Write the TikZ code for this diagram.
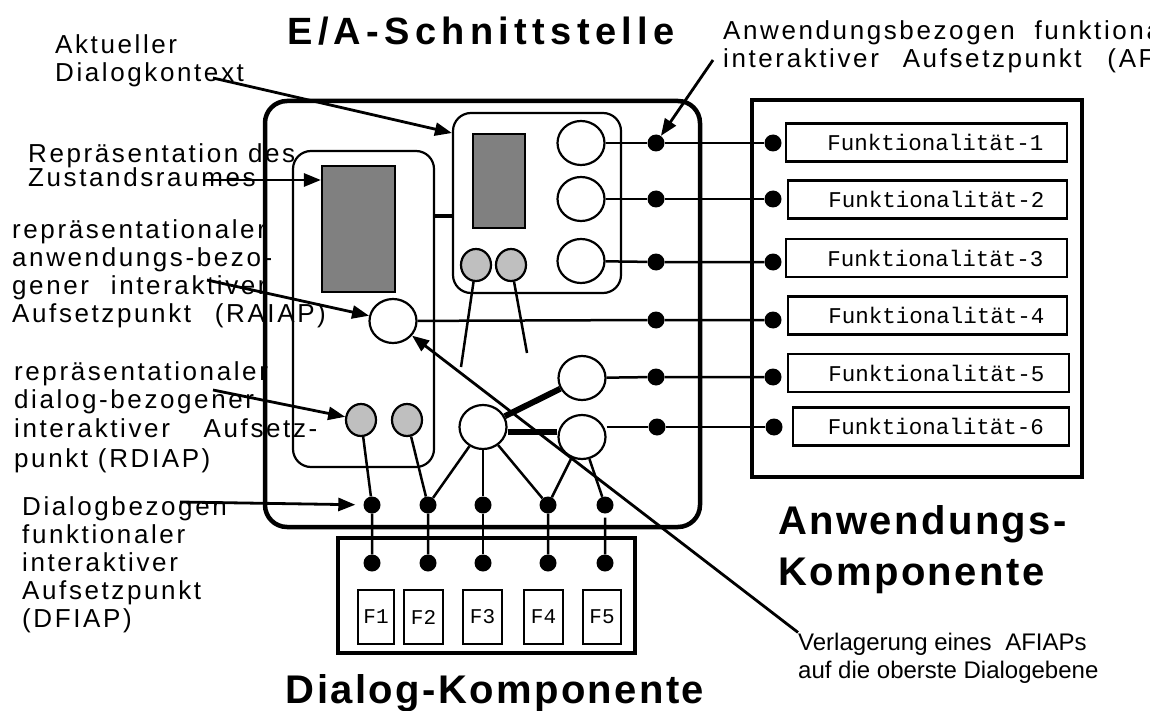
\documentclass[tikz,border=0pt]{standalone}
\usepackage{fontspec}
\setmainfont{Liberation Sans}
\setmonofont{Liberation Mono}
\newfontfamily\spaced[LetterSpace=10]{Liberation Sans}
\newfontfamily\titelfont[LetterSpace=14]{Liberation Sans}
\newfontfamily\kompfont[LetterSpace=6]{Liberation Sans}
\usetikzlibrary{shapes}
\usetikzlibrary{positioning}
\usetikzlibrary{arrows.meta}
\tikzset{
    schale/.style = {rectangle, rounded corners=22pt, line width=4.5pt, draw=black, inner sep=0pt},
    fach/.style = {rectangle, rounded corners=18pt, line width=2.2pt, draw=black, inner sep=0pt},
    zustand/.style = {rectangle, line width=2.2pt, draw=black, fill=gray, inner sep=0pt},
    rahmen/.style = {rectangle, line width=4.5pt, draw=black, inner sep=0pt},
    kreis/.style = {ellipse, line width=2.2pt, draw=black, fill=white, inner sep=0pt, minimum width=47pt, minimum height=44pt},
    grau/.style = {ellipse, line width=2.2pt, draw=black, fill=gray!50, inner sep=0pt, minimum width=30pt, minimum height=32pt},
    punkt/.style = {circle, fill=black, inner sep=0pt, minimum size=17pt},
    funk/.style = {rectangle, line width=2.5pt, draw=black, inner sep=0pt, minimum height=38pt, font=\ttfamily\fontsize{22.5}{24}\selectfont},
    taste/.style = {rectangle, line width=2.2pt, draw=black, inner sep=0pt, minimum height=54pt, font=\ttfamily\fontsize{21}{23}\selectfont},
    lab/.style = {align=left, inner sep=0pt, font=\spaced\fontsize{26}{28}\selectfont},
    klein/.style = {align=left, inner sep=0pt, font=\fontsize{24}{28}\selectfont},
    titel/.style = {inner sep=0pt, font=\titelfont\bfseries\fontsize{38}{50}\selectfont},
    komp/.style = {inner sep=0pt, font=\kompfont\bfseries\fontsize{40}{50}\selectfont},
    verb/.style = {line width=2.5pt},
    dick/.style = {line width=6pt}, % starke Kopplung
    balken/.style = {line width=4pt},
    pfeil/.style = {line width=2.8pt, -{Triangle[length=17pt,width=13pt]}}
}
\begin{document}
\begin{tikzpicture}[x=1pt,y=-1pt]
\useasboundingbox (0,0) rectangle (1150,711);
%
% E/A-Schnittstelle
\node[schale, minimum width=435pt, minimum height=426pt] at (482.5,314) (ea) {};
\node[fach, minimum width=141pt, minimum height=316pt] at (363.5,309) (zb) {};
\node[fach, minimum width=168pt, minimum height=180pt] at (537,203) (dk) {};
\node[zustand, minimum width=73pt, minimum height=126pt] at (358.5,229) (zr) {};
\node[zustand, minimum width=52pt, minimum height=94pt] at (499,181) (dz) {};
\draw[balken] (zb.east |- 0,216) -- (dk.west |- 0,216);
%
\node[kreis] at (581,143) (k1) {};
\node[kreis] at (581,199) (k2) {};
\node[kreis] at (581,261) (k3) {};
\node[grau] at (476,265) (g1) {};
\node[grau] at (511,265) (g2) {};
\node[kreis] at (393,321) (ra) {};
\node[kreis] at (582,378) (ka) {};
\node[kreis] at (582,437) (kb) {};
\node[kreis] at (483,427) (hub) {};
\node[grau] at (361,420) (rd1) {};
\node[grau] at (407,420) (rd2) {};
\coordinate (g1e) at (461,367);
\coordinate (g2e) at (527,353);
%
% Anwendungs-Komponente
\node[rahmen, minimum width=330pt, minimum height=377pt] at (917,288.5) (ak) {};
\node[funk, minimum width=281pt] at (926.5,142.5) (fu1) {\hspace*{18pt}Funktionalität-1};
\node[funk, minimum width=279pt] at (927.5,199.5) (fu2) {\hspace*{18pt}Funktionalität-2};
\node[funk, minimum width=281pt] at (926.5,258) (fu3) {\hspace*{18pt}Funktionalität-3};
\node[funk, minimum width=279pt] at (927.5,315.5) (fu4) {\hspace*{18pt}Funktionalität-4};
\node[funk, minimum width=281pt] at (928.5,373) (fu5) {\hspace*{16pt}Funktionalität-5};
\node[funk, minimum width=276pt] at (931,426.5) (fu6) {\hspace*{10pt}Funktionalität-6};
%
% Dialog-Komponente
\node[rahmen, minimum width=297pt, minimum height=115pt] at (486.5,595.5) (dc) {};
\node[taste, minimum width=36pt] at (376,617) (t1) {F1};
\node[taste, minimum width=39pt] at (423.5,617) (t2) {F2};
\node[taste, minimum width=39pt] at (482.5,617) (t3) {F3};
\node[taste, minimum width=39pt] at (543.5,617) (t4) {F4};
\node[taste, minimum width=38pt] at (602,617) (t5) {F5};
%
% Aufsetzpunkte
\node[punkt] at (656,143) (a1) {};
\node[punkt] at (656,199) (a2) {};
\node[punkt] at (656,262) (a3) {};
\node[punkt] at (656,320) (a4) {};
\node[punkt] at (656,377) (a5) {};
\node[punkt] at (657,427) (a6) {};
\node[punkt] at (773,143) (b1) {};
\node[punkt] at (773,199) (b2) {};
\node[punkt] at (773,262) (b3) {};
\node[punkt] at (773,320) (b4) {};
\node[punkt] at (773,377) (b5) {};
\node[punkt] at (774,427) (b6) {};
\node[punkt] at (372,505) (d1) {};
\node[punkt] at (428,505) (d2) {};
\node[punkt] at (483,505) (d3) {};
\node[punkt] at (548,505) (d4) {};
\node[punkt] at (605,505) (d5) {};
\node[punkt] at (372,563) (e1) {};
\node[punkt] at (428,563) (e2) {};
\node[punkt] at (483,563) (e3) {};
\node[punkt] at (548,563) (e4) {};
\node[punkt] at (605,563) (e5) {};
%
\draw[verb] (k1) -- (a1) -- (b1);
\draw[verb] (k2) -- (a2) -- (b2);
\draw[verb] (k3) -- (a3) -- (b3);
\draw[verb] (ra) -- (a4) -- (b4);
\draw[verb] (ka) -- (a5) -- (b5);
\draw[verb] (kb.east |- a6) -- (a6) -- (b6);
\draw[dick] (hub) -- (ka);
\draw[dick] ([yshift=-5pt]hub.east) -- ([yshift=5pt]kb.west);
\draw[verb] (g1) -- (g1e);
\draw[verb] (g2) -- (g2e);
\draw[verb] (rd1) -- (d1) -- (e1);
\draw[verb] (rd2) -- (d2) -- (e2);
\draw[verb] (hub) -- (d2);
\draw[verb] (hub) -- (d3) -- (e3);
\draw[verb] (hub) -- (d4) -- (e4);
\draw[verb] (kb) -- (d4);
\draw[verb, shorten <=4pt] (kb) -- (d5) -- (e5);
%
% Beschriftung
\node[titel, anchor=base] at (481,45) (ti) {E/A-Schnittstelle};
\node[komp, anchor=base west] at (778,534) (akn) {Anwendungs-};
\node[komp, anchor=base west] at (778,585) (akk) {Komponente};
\node[komp, anchor=base] at (495,703) (dcn) {Dialog-Komponente};
\node[lab, anchor=base west] at (55,82) (akt) {Aktueller\\Dialogkontext};
\node[lab, anchor=base west] at (28,187) (rep) {Repräsentation des\\[-4pt]Zustandsraumes};
\node[lab, anchor=base west] at (12,322) (rai) {repräsentationaler\\anwendungs-bezo-\\gener\hspace{12pt} interaktiver\\Aufsetzpunkt\hspace{14pt} (RAIAP)};
\node[lab, anchor=base west] at (14,467) (rdi) {repräsentationaler\\dialog-bezogener\\[1pt]interaktiver\hspace{24pt} Aufsetz-\\[2pt]punkt (RDIAP)};
\node[lab, anchor=base west] at (22,627) (dfi) {Dialogbezogen\\funktionaler\\interaktiver\\Aufsetzpunkt\\(DFIAP)};
\begin{scope}
\clip (0,0) rectangle (1150,711);
\node[lab, anchor=base west] at (723,68) (afi) {Anwendungsbezogen\hspace{10pt} funktionaler\\interaktiver\hspace{14pt} Aufsetzpunkt\hspace{16pt} (AFIAP)};
\end{scope}
\node[klein, anchor=base west] at (798,678) (vl) {Verlagerung eines\hspace{7pt} AFIAPs\\auf die oberste Dialogebene};
%
\coordinate (akt-p) at (213,78);
\coordinate (rep-p) at (205,180);
\coordinate (rai-p) at (207,280);
\coordinate (rdi-p) at (213,390);
\coordinate (dfi-p) at (180,502);
\coordinate (afi-p) at (713,60);
\draw[pfeil] (akt-p) -- ([yshift=70pt]dk.west);
\draw[pfeil] (rep-p) -- (zr.west |- rep-p);
\draw[pfeil] (rai-p) -- (ra);
\draw[pfeil] (rdi-p) -- (rd1);
\draw[pfeil, shorten >=8pt] (dfi-p) -- (d1);
\draw[pfeil] (afi-p) -- (a1);
\draw[pfeil] (vl.north west) -- (ra);
\end{tikzpicture}
\end{document}
